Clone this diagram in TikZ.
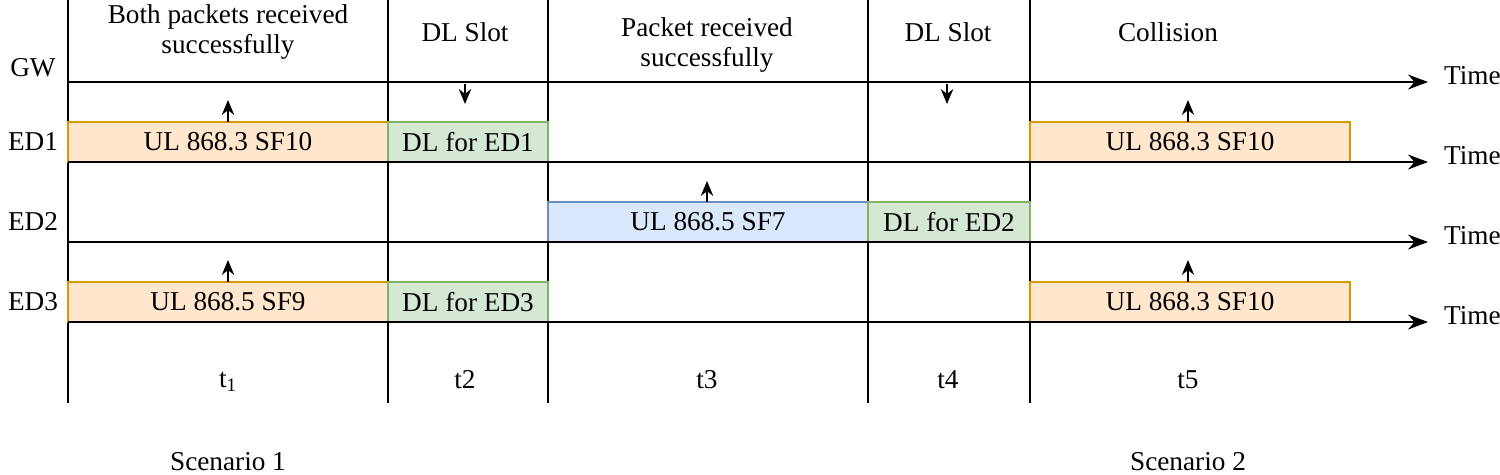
\documentclass[tikz,border=0pt]{standalone}
\usepackage{fontspec}
\setmainfont{Liberation Serif}
\usetikzlibrary{arrows.meta}
\definecolor{ulfill}{HTML}{FFE6CC}\definecolor{uldraw}{HTML}{D79B00}
\definecolor{dlfill}{HTML}{D5E8D4}\definecolor{dldraw}{HTML}{82B366}
\definecolor{bfill}{HTML}{DAE8FC}\definecolor{bdraw}{HTML}{6C8EBF}
\begin{document}
\begin{tikzpicture}[x=0.02cm,y=-0.02cm,font=\fontsize{15.5}{17}\selectfont,
  ul/.style={draw=uldraw,fill=ulfill,line width=1pt},
  dl/.style={draw=dldraw,fill=dlfill,line width=1pt},
  ulb/.style={draw=bdraw,fill=bfill,line width=1pt},
  timeline/.style={thick,-{Stealth[length=4mm,width=3mm]}},
  sig/.style={thick,-{Stealth[length=3mm,width=2.5mm]}},
]
  \useasboundingbox (0,0) rectangle (1500,474);
  % slot borders
  \foreach \x in {68,388,548,868,1030}
    \draw[thick] (\x,0) -- (\x,403);
  % transmissions
  \draw[ul] (68,122) rectangle node (ul1) {UL 868.3 SF10} (388,162);
  \draw[dl] (388,122) rectangle node (dl1) {DL for ED1} (548,162);
  \draw[ul] (68,282) rectangle node (ul3) {UL 868.5 SF9} (388,322);
  \draw[dl] (388,282) rectangle node (dl3) {DL for ED3} (548,322);
  \draw[ulb] (548,202) rectangle node (ul2) {UL 868.5 SF7} (868,242);
  \draw[dl] (868,202) rectangle node (dl2) {DL for ED2} (1030,242);
  \draw[ul] (1030,122) rectangle node (ul4) {UL 868.3 SF10} (1350,162);
  \draw[ul] (1030,282) rectangle node (ul5) {UL 868.3 SF10} (1350,322);
  % time axes
  \foreach \y/\n in {82/gw,162/ed1,242/ed2,322/ed3}{
    \coordinate (s\n) at (68,\y);
    \node[anchor=west] (time\n) at (1438,\y-6) {Time};
    \draw[timeline] (s\n) -- (1428,\y);
  }
  \node (gw) at (33,68) {GW};
  \node (ed1) at (33,142) {ED1};
  \node (ed2) at (33,222) {ED2};
  \node (ed3) at (33,302) {ED3};
  % uplink / downlink marks
  \draw[sig] (228,122) -- (228,100);
  \draw[sig] (228,282) -- (228,260);
  \draw[sig] (707,202) -- (707,181);
  \draw[sig] (1188,122) -- (1188,100);
  \draw[sig] (1188,282) -- (1188,260);
  \draw[sig] (465,84) -- (465,104);
  \draw[sig] (947,84) -- (947,104);
  % slot titles
  \node[align=center] (c1) at (228,32) {Both packets received\\successfully};
  \node (c2) at (465,32) {DL Slot};
  \node[align=center] (c3) at (707,45) {Packet received\\successfully};
  \node (c4) at (948,32) {DL Slot};
  \node (c5) at (1168,32) {Collision};
  \node (t1) at (228,382) {t\textsubscript{1}};
  \node (t2) at (465,380) {t2};
  \node (t3) at (707,380) {t3};
  \node (t4) at (948,380) {t4};
  \node (t5) at (1188,380) {t5};
  \node (sc1) at (228,462) {Scenario 1};
  \node (sc2) at (1188,462) {Scenario 2};
\end{tikzpicture}
\end{document}
